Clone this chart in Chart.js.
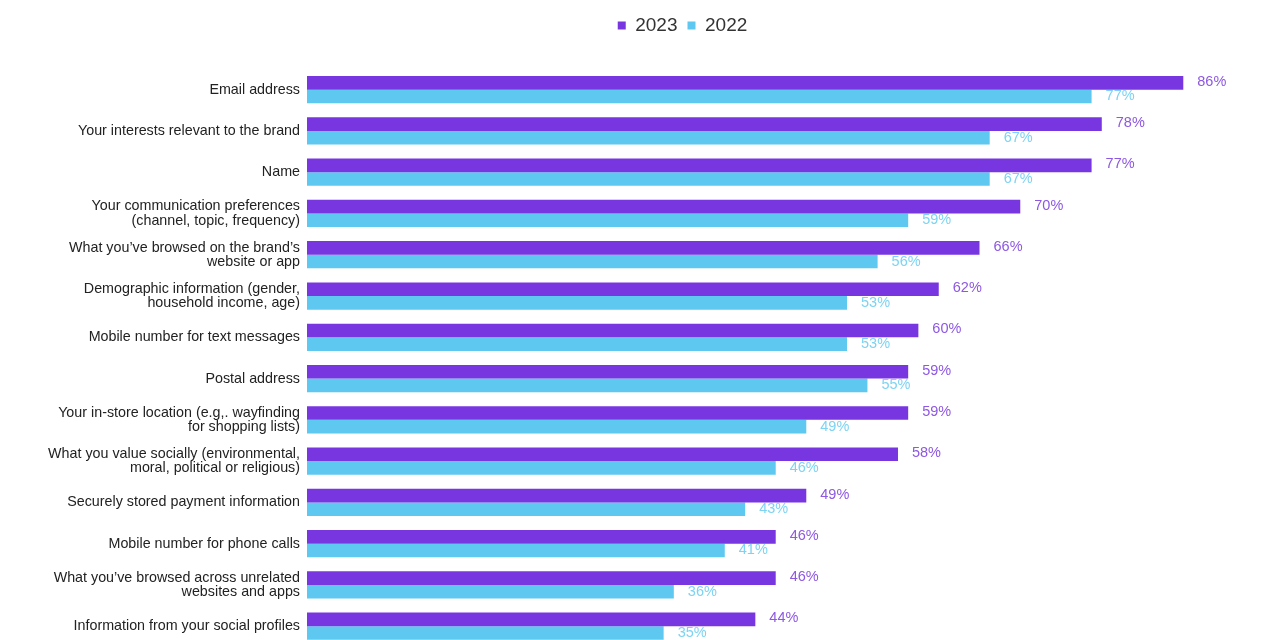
<!DOCTYPE html>
<html>
<head>
<meta charset="utf-8">
<script src="https://cdn.jsdelivr.net/npm/chart.js@4.4.1/dist/chart.umd.min.js"></script>
<style>
  html, body { margin: 0; padding: 0; background: #fff; overflow: hidden; }
  #wrap { width: 1280px; height: 661px; position: relative; }
</style>
</head>
<body>
<div id="wrap"><canvas id="dataChart"></canvas></div>
<script>
// Data
const categories = [
  'Email address',
  'Your interests relevant to the brand',
  'Name',
  ['Your communication preferences', '(channel, topic, frequency)'],
  ['What you\u2019ve browsed on the brand\u2019s', 'website or app'],
  ['Demographic information (gender,', 'household income, age)'],
  'Mobile number for text messages',
  'Postal address',
  ['Your in-store location (e.g,. wayfinding', 'for shopping lists)'],
  ['What you value socially (environmental,', 'moral, political or religious)'],
  'Securely stored payment information',
  'Mobile number for phone calls',
  ['What you\u2019ve browsed across unrelated', 'websites and apps'],
  'Information from your social profiles'
];
const values2023 = [86, 78, 77, 70, 66, 62, 60, 59, 59, 58, 49, 46, 46, 44];
const values2022 = [77, 67, 67, 59, 56, 53, 53, 55, 49, 46, 43, 41, 36, 35];
const seriesNames = ['2023', '2022'];

const barColors = ['#7836E0', '#5EC8F0'];
const textColors = ['#8E58E2', '#7DD3F2'];

// Value labels at the end of each bar
const valueLabels = {
  id: 'valueLabels',
  afterDatasetsDraw(chart) {
    const c = chart.ctx;
    c.save();
    c.font = '14.5px "Liberation Sans", Arial, sans-serif';
    c.textBaseline = 'middle';
    c.textAlign = 'left';
    chart.data.datasets.forEach((ds, i) => {
      const meta = chart.getDatasetMeta(i);
      c.fillStyle = textColors[i];
      meta.data.forEach((bar, j) => {
        c.fillText(ds.data[j] + '%', bar.x + 14, bar.y + (i === 0 ? -1 : 0));
      });
    });
    c.restore();
  }
};

// extra space under the legend, and nudge it right like the original
const legendGap = {
  id: 'legendGap',
  beforeInit(chart) {
    const fit = chart.legend.fit;
    chart.legend.fit = function () {
      fit.bind(chart.legend)();
      this.height += 24;
    };
  },
  afterLayout(chart) {
    chart.legend.left += 45;
    chart.legend.right += 45;
  }
};

const ctx = document.getElementById('dataChart').getContext('2d');
new Chart(ctx, {
  type: 'bar',
  data: {
    labels: categories,
    datasets: [
      { label: seriesNames[0], data: values2023, backgroundColor: barColors[0] },
      { label: seriesNames[1], data: values2022, backgroundColor: barColors[1] }
    ]
  },
  options: {
    indexAxis: 'y',
    responsive: true,
    maintainAspectRatio: false,
    animation: false,
    barPercentage: 1,
    categoryPercentage: 0.66,
    layout: { padding: { top: 6, right: 5, left: 0, bottom: 0 } },
    plugins: {
      legend: {
        display: true,
        position: 'top',
        labels: {
          boxWidth: 8,
          boxHeight: 8,
          padding: 10,
          color: '#333',
          font: { size: 19, family: '"Liberation Sans", Arial, sans-serif' }
        }
      },
      tooltip: { enabled: false }
    },
    scales: {
      x: {
        min: 0,
        max: 95,
        display: false,
        grid: { display: false }
      },
      y: {
        grid: { display: false, drawTicks: false },
        border: { display: false },
        afterFit(scale) { scale.width = 307; },
        ticks: {
          padding: 7,
          color: '#222',
          font: { size: 14.3, family: '"Liberation Sans", Arial, sans-serif', lineHeight: 1.0 }
        }
      }
    }
  },
  plugins: [valueLabels, legendGap]
});
</script>
</body>
</html>
